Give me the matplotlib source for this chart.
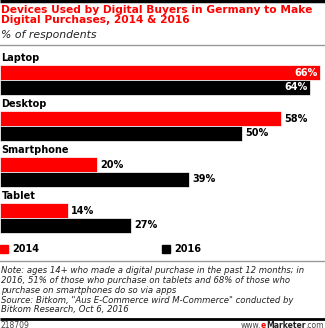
import matplotlib.pyplot as plt
from matplotlib.patches import Rectangle

# data
devices = ["Laptop", "Desktop", "Smartphone", "Tablet"]
values_2014 = [66, 58, 20, 14]
values_2016 = [64, 50, 39, 27]
years = ["2014", "2016"]

RED = "#ff0000"
BLACK = "#000000"
W, H = 325, 328
PX = 4.85  # pixels per percent

fig = plt.figure(figsize=(W / 100, H / 100), dpi=100)
ax = fig.add_axes([0, 0, 1, 1])
ax.set_xlim(0, W / PX)
ax.set_ylim(H, 0)
ax.axis("off")
xmax = ax.get_xlim()[1]

# header
ax.plot([0, xmax], [1, 1], color="black", lw=2.5, solid_capstyle="butt")
fig.text(0.003, 1 - 5 / H, "Devices Used by Digital Buyers in Germany to Make\nDigital Purchases, 2014 & 2016",
         color=RED, fontsize=7.7, fontweight="bold", va="top", ha="left", linespacing=0.98)
fig.text(0.003, 1 - 30 / H, "% of respondents", fontsize=7.8, style="italic", va="top", ha="left",
         color="#222222")
ax.plot([0, xmax], [45, 45], color="#999999", lw=1)

# bars
top0, step, bh = 65, 46, 15
for i, dev in enumerate(devices):
    y = top0 + step * i
    ax.text(0.3, y - 7, dev, fontsize=7, fontweight="bold", va="center", ha="left")
    for j, (vals, col) in enumerate([(values_2014, RED), (values_2016, BLACK)]):
        v = vals[i]
        yy = y + j * bh
        ax.barh(yy + bh / 2, v, height=bh, color=col, edgecolor="white", linewidth=0.5)
        if v >= 60:
            ax.text(v - 0.6, yy + bh / 2, f"{v}%", color="white", fontsize=7, fontweight="bold",
                    va="center", ha="right")
        else:
            ax.text(v + 0.6, yy + bh / 2, f"{v}%", color="black", fontsize=7, fontweight="bold",
                    va="center", ha="left")

# legend
ax.add_patch(Rectangle((0, 245), 8 / PX, 8, color=RED))
ax.text(12 / PX, 249, years[0], fontsize=7, fontweight="bold", va="center")
ax.add_patch(Rectangle((162 / PX, 245), 8 / PX, 8, color=BLACK))
ax.text(174 / PX, 249, years[1], fontsize=7, fontweight="bold", va="center")
ax.plot([0, xmax], [261, 261], color="#999999", lw=1)

# notes
note = ("Note: ages 14+ who made a digital purchase in the past 12 months; in\n"
        "2016, 51% of those who purchase on tablets and 68% of those who\n"
        "purchase on smartphones do so via apps\n"
        "Source: Bitkom, \"Aus E-Commerce wird M-Commerce\" conducted by\n"
        "Bitkom Research, Oct 6, 2016")
fig.text(0.003, 1 - 266 / H, note, fontsize=6.1, style="italic", va="top", ha="left",
         linespacing=1.12, color="#222222")
ax.plot([0, xmax], [319, 319], color="black", lw=2, solid_capstyle="butt")
fig.text(0.003, 1 - 325 / H, "218709", fontsize=5.5, va="center", ha="left", color="#444444")

# footer brand, built right to left
renderer = fig.canvas.get_renderer()
x_right = W - 1
for txt, col, wt in [(".com", "#444444", "normal"), ("Marketer", "#222222", "bold"),
                     ("e", RED, "bold"), ("www.", "#444444", "normal")]:
    t = fig.text(x_right / W, 1 - 325 / H, txt, fontsize=5.5, va="center", ha="right",
                 color=col, fontweight=wt)
    x_right -= t.get_window_extent(renderer).width

fig.savefig("out.png", dpi=100)
